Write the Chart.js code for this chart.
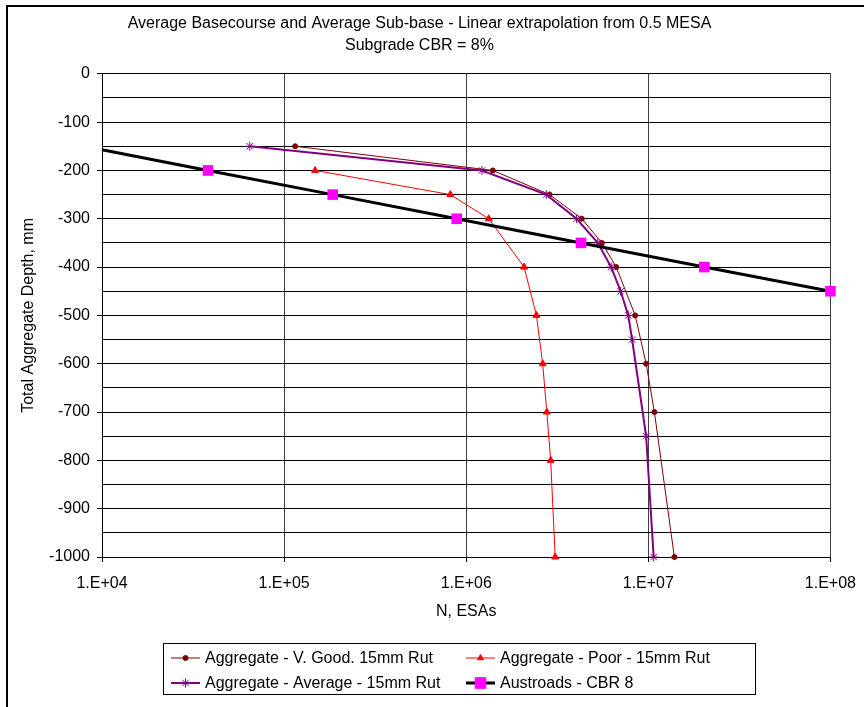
<!DOCTYPE html>
<html>
<head>
<meta charset="utf-8">
<script src="https://cdn.jsdelivr.net/npm/chart.js@4"></script>
<style>
  body { margin: 0; background: #fff; }
  #wrap { position: relative; width: 864px; height: 707px; overflow: hidden; }
  #frame { position: absolute; left: 6px; top: 5px; width: 900px; height: 800px; border: 2px solid #000; }
  canvas { position: absolute; left: 0; top: 0; }
</style>
</head>
<body>
<div id="wrap">
  <canvas id="RutChart" width="864" height="707"></canvas>
  <div id="frame"></div>
</div>
<script>
const titleLines = ['Average Basecourse and Average Sub-base - Linear extrapolation from 0.5 MESA', 'Subgrade CBR = 8%'];
const seriesNames = ['Aggregate - V. Good. 15mm Rut', 'Aggregate - Poor - 15mm Rut', 'Aggregate - Average - 15mm Rut', 'Austroads - CBR 8'];
const xTicks = [1e4, 1e5, 1e6, 1e7, 1e8];

// N (ESAs) and depth (mm) for each curve
const vgoodN = [1.15e5, 1.40e6, 2.87e6, 4.31e6, 5.56e6, 6.67e6, 8.47e6, 9.73e6, 1.08e7, 1.39e7];
const vgoodDepth = [-150, -200, -250, -300, -350, -400, -500, -600, -700, -1000];

const poorN = [1.48e5, 8.18e5, 1.33e6, 2.08e6, 2.43e6, 2.63e6, 2.77e6, 2.91e6, 3.08e6];
const poorDepth = [-200, -250, -300, -400, -500, -600, -700, -800, -1000];

const avgN = [6.48e4, 1.22e6, 2.75e6, 4.04e6, 5.28e6, 6.25e6, 7.05e6, 7.76e6, 8.15e6, 9.73e6, 1.07e7];
const avgDepth = [-150, -200, -250, -300, -350, -400, -450, -500, -550, -750, -1000];

const austN = [1.0e4, 3.82e4, 1.85e5, 8.87e5, 4.27e6, 2.03e7, 1.0e8];
const austDepth = [-157, -200, -250, -300, -350, -400, -450];

function pairs(xs, ys) {
    return xs.map((x, i) => ({ x: x, y: ys[i] }));
}

Chart.defaults.font.family = "'Liberation Sans', Arial, sans-serif";
Chart.defaults.font.size = 16;
Chart.defaults.color = '#000';

// legend box drawn under the plot, 2 x 2 like the original
const boxLegend = {
    id: 'boxLegend',
    afterDraw(chart) {
        const ctx = chart.ctx;
        const spots = [[171, 658], [466, 658], [171, 683], [466, 683]];
        ctx.save();
        ctx.fillStyle = '#fff';
        ctx.fillRect(163.5, 643.5, 592, 51);
        ctx.strokeStyle = '#000';
        ctx.lineWidth = 1;
        ctx.strokeRect(163.5, 643.5, 592, 51);
        chart.data.datasets.forEach((ds, i) => {
            const [x, y] = spots[i];
            ctx.strokeStyle = ds.borderColor;
            ctx.lineWidth = ds.borderWidth;
            ctx.beginPath();
            ctx.moveTo(x, y);
            ctx.lineTo(x + 29, y);
            ctx.stroke();
            ctx.fillStyle = ds.pointBackgroundColor;
            ctx.strokeStyle = ds.pointBorderColor;
            ctx.lineWidth = 1;
            Chart.helpers.drawPoint(ctx, {
                pointStyle: ds.pointStyle,
                radius: ds.legendRadius,
                rotation: 0,
                borderWidth: 1
            }, x + 14.5, y);
            ctx.fillStyle = '#000';
            ctx.font = "16px 'Liberation Sans', Arial, sans-serif";
            ctx.textBaseline = 'middle';
            ctx.fillText(ds.label, x + 34, y + 1);
        });
        ctx.restore();
    }
};

const data = {
    datasets: [
        {
            label: seriesNames[0],
            data: pairs(vgoodN, vgoodDepth),
            borderColor: '#800000',
            borderWidth: 1,
            pointStyle: 'circle',
            pointRadius: 2.5,
            legendRadius: 2.5,
            pointBackgroundColor: '#800000',
            pointBorderColor: '#800000',
            order: 3
        },
        {
            label: seriesNames[1],
            data: pairs(poorN, poorDepth),
            borderColor: '#ff0000',
            borderWidth: 1,
            pointStyle: 'triangle',
            pointRadius: 4,
            legendRadius: 3.5,
            pointBackgroundColor: '#ff0000',
            pointBorderColor: '#ff0000',
            order: 2
        },
        {
            label: seriesNames[2],
            data: pairs(avgN, avgDepth),
            borderColor: '#800080',
            borderWidth: 2,
            pointStyle: 'star',
            pointRadius: 4.5,
            legendRadius: 4.5,
            pointBorderWidth: 1,
            pointBackgroundColor: '#800080',
            pointBorderColor: '#800080',
            order: 1
        },
        {
            label: seriesNames[3],
            data: pairs(austN, austDepth),
            borderColor: '#000000',
            borderWidth: 3,
            pointStyle: 'rect',
            pointRadius: austN.map((v, i) => i === 0 ? 0 : 7.5),
            legendRadius: 7.5,
            pointBackgroundColor: '#ff00ff',
            pointBorderColor: '#ff00ff',
            pointBorderWidth: 0,
            order: 0
        }
    ]
};

const config = {
    type: 'line',
    data: data,
    options: {
        responsive: false,
        animation: false,
        layout: {
            padding: { left: 8, right: 33, top: 0, bottom: 80 }
        },
        datasets: {
            line: { tension: 0, clip: false }
        },
        plugins: {
            legend: { display: false },
            tooltip: { enabled: false },
            title: {
                display: true,
                text: titleLines,
                color: '#000',
                font: { size: 16, weight: 'normal', lineHeight: 1.4 },
                padding: { top: 12, bottom: 17 }
            }
        },
        scales: {
            x: {
                type: 'logarithmic',
                min: 1e4,
                max: 1e8,
                afterBuildTicks: (scale) => {
                    scale.ticks = xTicks.map(v => ({ value: v }));
                },
                afterFit: (scale) => { scale.height = 70; },
                ticks: {
                    autoSkip: false,
                    maxRotation: 0,
                    padding: 8,
                    font: { size: 16, lineHeight: 1.7 },
                    callback: (v) => '1.E+' + String(Math.round(Math.log10(v))).padStart(2, '0')
                },
                grid: {
                    color: '#404040',
                    tickColor: '#000',
                    tickLength: 5
                },
                border: { color: '#000' },
                title: {
                    display: true,
                    text: 'N, ESAs',
                    padding: 6
                }
            },
            y: {
                min: -1000,
                max: 0,
                afterFit: (scale) => { scale.width = 94; },
                ticks: {
                    stepSize: 50,
                    autoSkip: false,
                    padding: 7,
                    callback: (v) => v % 100 === 0 ? String(v) : ''
                },
                grid: {
                    color: '#000',
                    tickColor: (ctx) => ctx.tick && ctx.tick.value % 100 === 0 ? '#000' : 'rgba(0,0,0,0)',
                    tickLength: 5
                },
                border: { color: '#000' },
                title: {
                    display: true,
                    text: 'Total Aggregate Depth, mm',
                    padding: 11
                }
            }
        }
    },
    plugins: [boxLegend]
};

const ctx = document.getElementById('RutChart');
new Chart(ctx, config);
</script>
</body>
</html>
